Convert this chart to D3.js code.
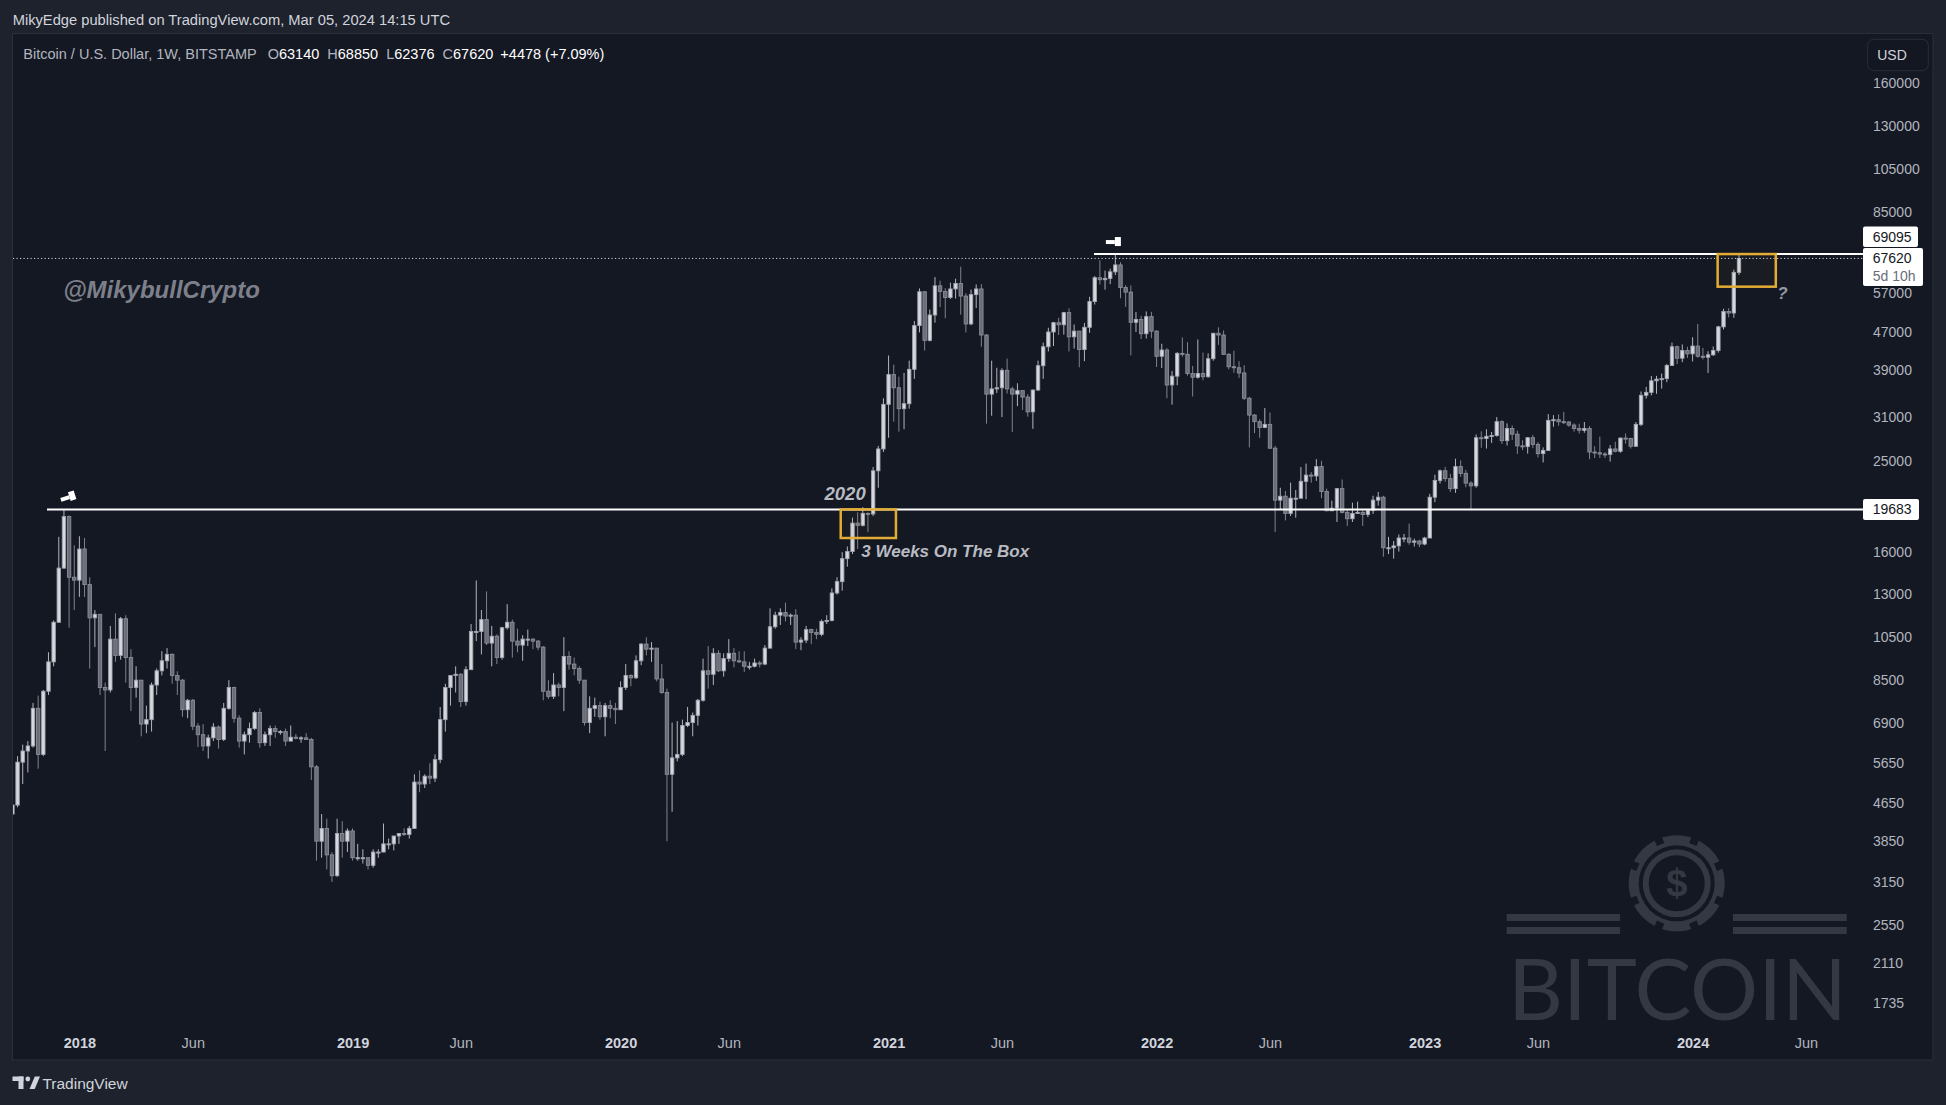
<!DOCTYPE html>
<html>
<head>
<meta charset="utf-8">
<script src="https://cdn.jsdelivr.net/npm/d3@7"></script>
<style>
    html, body { margin: 0; padding: 0; background: #1e222d; overflow: hidden; }
    svg { display: block; }
    text { font-family: "Liberation Sans", Arial, sans-serif; }
</style>
</head>
<body>
<div id="chart"></div>
<script>
// weekly BTCUSD (Bitstamp) bars, each row [high, low, close]; open = previous close
var firstWeek = "2017-10-02";
var firstOpen = 4400;

var weeks2017 = [
    [4650, 4100, 4600], [5850, 4550, 5680], [6190, 5100, 6000], [6300, 5400, 6150],
    [7600, 6100, 7400], [7880, 5500, 5900], [8100, 5850, 8050], [9750, 7900, 9300],
    [11400, 9100, 11300], [17200, 11300, 14750], [19666, 14700, 19000], [19100, 11000, 14100],
    [16500, 12000, 13900]
];
var weeks2018 = [
    [17250, 12800, 16200], [17100, 12800, 13600], [14100, 9000, 11550], [12000, 10000, 11750],
    [11700, 7900, 8200], [8400, 6000, 8100], [11100, 8000, 10400], [11800, 9300, 9600],
    [11600, 9400, 11500], [11700, 8400, 9500], [9900, 7300, 8200], [9100, 7800, 8500],
    [8500, 6450, 6850], [7500, 6550, 7000], [8400, 6600, 8300], [9000, 7900, 8900],
    [9800, 8700, 9350], [9950, 9000, 9650], [9700, 8350, 8700], [8880, 7900, 8500],
    [8550, 7100, 7350], [7750, 7050, 7700], [7750, 6650, 6780], [6880, 6120, 6500],
    [6850, 6000, 6150], [6500, 5780, 6400], [6880, 6300, 6750], [6800, 6070, 6350],
    [7600, 6300, 7400], [8500, 7350, 8200], [8230, 6900, 7050], [7150, 6100, 6300],
    [6600, 5900, 6500], [6900, 6250, 6700], [7300, 6650, 7250], [7400, 6100, 6250],
    [6600, 6150, 6500], [6800, 6150, 6700], [6800, 6400, 6600], [6650, 6500, 6600],
    [6700, 6150, 6300], [6800, 6300, 6420], [6520, 6350, 6400], [6450, 6250, 6400],
    [6550, 6350, 6350], [6400, 5200, 5550], [5600, 3500, 3850], [4400, 3550, 4100],
    [4300, 3350, 3600], [3650, 3150, 3250], [4300, 3230, 4000], [4250, 3550, 3850]
];
var weeks2019 = [
    [4100, 3650, 4050], [4100, 3500, 3550], [3800, 3500, 3550], [3700, 3450, 3550],
    [3550, 3350, 3420], [3700, 3380, 3650], [3700, 3550, 3650], [4200, 3650, 3800],
    [3900, 3700, 3800], [3950, 3680, 3950], [4000, 3800, 4000], [4100, 3950, 3980],
    [4150, 3900, 4100], [5350, 4100, 5150], [5450, 4900, 5100], [5350, 5000, 5300],
    [5650, 5100, 5250], [5900, 5150, 5750], [7450, 5650, 7000], [8350, 6600, 8200],
    [8700, 7500, 8700], [9100, 8000, 8750], [8800, 7450, 7650], [9100, 7500, 8950],
    [11200, 8950, 10800], [13880, 10300, 10800], [12000, 9650, 11450], [13150, 10100, 10200],
    [11100, 9100, 10550], [10650, 9200, 9500], [11050, 9400, 11000], [12350, 10900, 11300],
    [11450, 9500, 10300], [10950, 9750, 10100], [10600, 9350, 10400], [10900, 10050, 10400],
    [10450, 9900, 10300], [10350, 9850, 10000], [10050, 7700, 8050], [8500, 7750, 7850],
    [8800, 7750, 8300], [8400, 7850, 8200], [10500, 7300, 9550], [9800, 8950, 9200],
    [9500, 8700, 9000], [9100, 8350, 8500], [8500, 6800, 6900], [7850, 6550, 7400],
    [7800, 7100, 7500], [7650, 7000, 7100], [7600, 6450, 7500], [7700, 7050, 7400]
];
var weeks2020 = [
    [7600, 6850, 7350], [8450, 7350, 8200], [9200, 8100, 8700], [8750, 8250, 8600],
    [9600, 8550, 9350], [10200, 9150, 10150], [10500, 9600, 9900], [10250, 9300, 9950],
    [9950, 8450, 8550], [9200, 7950, 8000], [8150, 3850, 5350], [6900, 4450, 5800],
    [6950, 5700, 5900], [7000, 5850, 6800], [7450, 6750, 6900], [7250, 6450, 7150],
    [7750, 6800, 7700], [9450, 7650, 8900], [10050, 8150, 8750], [9950, 8300, 9700],
    [9850, 8850, 8900], [9700, 8650, 9450], [10400, 9300, 9700], [9950, 9050, 9350],
    [9800, 9250, 9300], [9800, 8850, 9100], [9300, 8950, 9100], [9450, 9050, 9250],
    [9350, 9050, 9200], [10100, 9150, 9950], [12100, 9950, 11050], [11900, 10950, 11700],
    [12100, 11150, 11850], [12450, 11350, 11650], [11800, 11150, 11700], [12050, 9900, 10250],
    [10500, 9850, 10350], [11100, 10200, 10900], [10950, 10150, 10750], [10950, 10400, 10650],
    [11450, 10550, 11350], [11700, 11200, 11400], [13350, 11350, 13050], [14100, 12950, 13800],
    [15950, 13200, 15450], [16400, 14850, 16000], [18900, 15800, 18400], [19400, 16200, 18200],
    [19900, 18100, 19300], [19400, 17600, 19250], [24250, 19050, 23800], [26900, 21900, 26500],
    [34000, 26100, 33000]
];
var weeks2021 = [
    [41950, 28000, 38200], [40100, 30300, 35800], [37800, 28850, 32300], [38500, 29200, 33100],
    [40900, 32300, 39200], [49700, 37400, 48600], [58350, 47000, 57400], [57500, 43000, 45200],
    [52600, 44950, 51200], [61700, 49300, 59100], [60600, 53250, 57500], [58400, 50400, 55800],
    [60000, 55400, 58200], [61200, 55500, 59800], [64900, 51300, 56200], [57000, 47000, 49000],
    [58000, 48700, 56600], [59500, 53000, 58200], [59600, 43800, 46400], [46600, 30000, 34700],
    [40900, 31200, 35600], [39500, 34900, 35800], [39400, 31000, 39000], [41300, 34800, 35600],
    [36000, 28800, 34700], [36600, 32700, 35300], [35300, 32100, 34200], [34700, 31050, 31800],
    [35500, 29250, 35400], [40900, 35250, 39900], [44700, 37400, 43800], [48100, 42800, 47100],
    [49500, 43950, 49300], [50500, 46400, 48800], [52000, 46500, 51800], [52900, 42800, 46000],
    [48850, 43400, 47300], [47300, 39600, 43200], [49250, 40800, 48200], [56000, 46900, 54700],
    [62000, 53900, 61500], [67000, 59500, 60900], [63700, 58000, 61300], [64300, 59600, 63300],
    [69000, 62300, 65500], [66400, 55600, 58600], [59300, 53300, 57300], [59200, 42000, 49400],
    [51950, 47100, 50100], [51000, 45500, 46700], [52100, 45600, 50800], [52000, 45700, 47300]
];
var weeks2022 = [
    [47500, 39650, 41800], [44450, 39450, 43100], [43500, 34000, 36300], [38900, 32950, 37900],
    [42650, 36250, 42400], [45850, 41700, 42200], [44800, 38000, 38400], [39850, 34300, 37700],
    [45400, 37450, 38400], [42550, 37150, 37800], [42400, 37600, 41300], [46900, 40900, 46800],
    [48200, 44200, 46400], [47450, 42100, 42200], [42450, 39200, 39700], [42950, 38550, 39500],
    [40800, 37600, 38500], [40000, 33700, 34000], [34250, 26700, 31300], [31450, 28650, 30300],
    [30650, 28000, 29450], [32400, 29350, 29900], [31700, 26500, 26600], [26900, 17600, 20600],
    [21900, 19650, 21000], [21550, 18650, 19300], [22450, 19050, 20800], [21650, 18900, 20800],
    [24250, 20750, 22600], [24650, 20700, 23300], [23650, 22450, 23200], [25200, 22650, 24300],
    [25000, 20800, 21500], [21800, 19500, 19550], [20550, 19550, 19800], [21850, 18500, 21800],
    [22800, 19300, 19400], [19700, 18150, 18800], [20350, 18500, 19300], [20450, 19250, 19400],
    [19650, 18150, 19200], [19700, 18950, 19600], [21050, 19250, 20600], [21450, 20050, 20900],
    [21050, 15600, 16300], [17200, 15800, 16300], [16850, 15450, 16450], [17400, 16000, 17100],
    [17450, 16750, 17100], [18350, 16550, 16750], [17050, 16400, 16850], [16950, 16350, 16600]
];
var weeks2023 = [
    [17200, 16500, 17100], [21250, 17150, 20900], [23350, 20400, 22700], [23950, 22350, 23800],
    [24250, 22550, 22900], [23450, 21450, 21800], [25250, 21350, 24300], [25050, 23100, 23500],
    [23900, 21950, 22400], [22600, 19600, 22100], [28450, 21900, 28000], [28900, 26650, 27900],
    [29200, 26550, 28200], [28800, 27300, 28300], [31000, 28150, 30300], [30500, 27150, 27600],
    [30050, 26950, 29300], [29750, 27700, 28500], [29000, 25850, 26900], [27650, 26350, 26800],
    [28100, 25900, 28000], [28400, 26600, 27100], [27400, 25400, 25900], [26700, 24800, 26300],
    [31450, 26250, 30500], [31300, 29550, 30600], [31400, 29700, 30300], [31800, 29950, 30250],
    [30400, 29550, 29800], [30050, 28850, 29300], [30000, 28600, 29050], [30250, 28700, 29300],
    [29650, 25200, 26100], [26850, 25350, 26000], [28150, 25350, 25850], [26100, 25350, 25800],
    [27000, 24900, 26500], [27450, 26050, 26200], [28050, 26000, 27950], [28600, 27200, 27900],
    [28000, 26550, 26850], [30250, 26800, 29900], [35150, 29650, 34500], [35950, 33950, 35000],
    [37950, 34500, 37050], [37950, 34750, 37350], [38400, 35650, 37450], [40250, 36800, 39950],
    [44700, 39950, 43800], [44050, 40200, 41400], [44300, 40600, 43000], [43800, 41450, 42300]
];
var weeks2024 = [
    [45900, 40750, 43950], [49000, 41500, 41800], [43550, 41150, 41600], [42850, 38500, 42100],
    [43850, 41850, 43000], [48550, 42550, 48300], [52800, 47700, 52100], [52950, 50600, 51700],
    [64000, 50500, 63140], [68850, 62376, 67620]
];
var changeText = "+4478 (+7.09%)";

var priceTicks = [160000, 130000, 105000, 85000, 57000, 47000, 39000, 31000, 25000, 16000,
    13000, 10500, 8500, 6900, 5650, 4650, 3850, 3150, 2550, 2110, 1735];
var timeTicks = ["2018-01-01", "2018-06-04", "2019-01-07", "2019-06-03", "2020-01-06", "2020-06-01",
    "2021-01-04", "2021-06-07", "2022-01-03", "2022-06-06", "2023-01-02", "2023-06-05",
    "2024-01-01", "2024-06-03"];
var timeLabels = ["2018", "Jun", "2019", "Jun", "2020", "Jun", "2021", "Jun", "2022", "Jun",
    "2023", "Jun", "2024", "Jun"];

// drawings on the chart
var lineStarts = ["2017-11-18", "2021-10-10"];
var linePrices = [19683, 69095];
var boxStarts = ["2020-10-31", "2024-02-04"];
var boxEnds = ["2021-01-14", "2024-04-23"];
var boxLows = [17100, 58850];
var boxHighs = [19683, 69095];
var lastPrice = 67620;
var countdown = "5d 10h";

var W = 1946, H = 1105;
var plot = {left: 13, right: 1863, top: 34, bottom: 1025};
var bg = "#141823", wm = "#343843";

var parseDay = d3.utcParse("%Y-%m-%d");

var rows = [].concat(weeks2017, weeks2018, weeks2019, weeks2020, weeks2021, weeks2022, weeks2023, weeks2024);
var dates = d3.utcMonday.range(parseDay(firstWeek), d3.utcDay.offset(parseDay("2024-03-04"), 1));
var bars = rows.map(function (r, i) {
    return {
        date: dates[i],
        open: i === 0 ? firstOpen : rows[i - 1][2],
        high: r[0],
        low: r[1],
        close: r[2]
    };
});

var x = d3.scaleUtc()
    .domain([parseDay("2018-01-01"), parseDay("2024-01-01")])
    .range([79.4, 1692.6]);
var y = d3.scaleLog()
    .domain([1735, 160000])
    .range([1003.3, 83.3]);

var svg = d3.select("#chart").append("svg")
    .attr("width", W)
    .attr("height", H);

svg.append("rect").attr("width", W).attr("height", H).attr("fill", "#1e222d");

// header
svg.append("text")
    .attr("x", 12.7).attr("y", 25)
    .attr("fill", "#d1d4dc")
    .style("font-size", "14.7px")
    .text("MikyEdge published on TradingView.com, Mar 05, 2024 14:15 UTC");

// panel
svg.append("rect")
    .attr("x", 12.5).attr("y", 33.5)
    .attr("width", 1920.5).attr("height", 1026.5)
    .attr("fill", bg)
    .attr("stroke", "#2a2e39");

svg.append("defs").append("clipPath").attr("id", "plotclip")
    .append("rect")
    .attr("x", plot.left).attr("y", plot.top)
    .attr("width", plot.right - plot.left).attr("height", plot.bottom - plot.top);

// watermark logo
var logo = svg.append("g").attr("transform", "translate(1676.7,883.3)");
logo.append("circle").attr("r", 48).attr("fill", wm);
d3.range(8).forEach(function (k) {
    logo.append("rect")
        .attr("x", -4).attr("y", -49)
        .attr("width", 8).attr("height", 7)
        .attr("fill", bg)
        .attr("transform", "rotate(" + (22.5 + k * 45) + ")");
});
logo.append("circle").attr("r", 38).attr("fill", bg);
logo.append("circle").attr("r", 34).attr("fill", wm);
logo.append("circle").attr("r", 28).attr("fill", bg);
logo.append("text")
    .attr("text-anchor", "middle").attr("y", 13)
    .attr("fill", wm)
    .style("font-size", "38px").style("font-weight", "bold")
    .text("$");
[[1506.7, 1620], [1733, 1846.7]].forEach(function (s) {
    [914, 927].forEach(function (yy) {
        svg.append("rect")
            .attr("x", s[0]).attr("y", yy)
            .attr("width", s[1] - s[0]).attr("height", 7)
            .attr("fill", wm);
    });
});
var wmText = svg.append("text")
    .attr("x", 1508).attr("y", 1020)
    .attr("fill", wm)
    .style("font-family", "Lato, 'Open Sans', sans-serif")
    .style("font-size", "93px")
    .text("BITCOIN");
var wmLen = wmText.node().getComputedTextLength();
if (wmLen > 339) {
    wmText.style("font-size", (93 * 339 / wmLen) + "px");
}

// legend
var legend = svg.append("text")
    .attr("x", 23.3).attr("y", 58.5)
    .style("font-size", "14.5px");
legend.append("tspan").attr("fill", "#b2b5be").text("Bitcoin / U.S. Dollar, 1W, BITSTAMP");
var last = bars[bars.length - 1];
[["O", last.open], ["H", last.high], ["L", last.low], ["C", last.close]].forEach(function (p, i) {
    legend.append("tspan").attr("dx", i === 0 ? 11 : 8).attr("fill", "#b2b5be").text(p[0]);
    legend.append("tspan").attr("fill", "#ffffff").text(p[1]);
});
legend.append("tspan").attr("dx", 7).attr("fill", "#ffffff").text(changeText);

var g = svg.append("g").attr("clip-path", "url(#plotclip)");

// candles
var candle = g.selectAll(".candle")
    .data(bars)
    .enter().append("g")
    .attr("class", "candle");

candle.append("line")
    .attr("x1", function (d) { return x(d.date); })
    .attr("x2", function (d) { return x(d.date); })
    .attr("y1", function (d) { return y(d.high); })
    .attr("y2", function (d) { return y(d.low); })
    .attr("stroke", function (d) { return d.close >= d.open ? "#b2b5be" : "#80838d"; })
    .attr("stroke-width", 1);

candle.append("rect")
    .attr("x", function (d) { return x(d.date) - 1.7; })
    .attr("width", 3.4)
    .attr("y", function (d) { return y(Math.max(d.open, d.close)); })
    .attr("height", function (d) {
        return Math.max(1, Math.abs(y(d.open) - y(d.close)));
    })
    .attr("fill", function (d) { return d.close >= d.open ? "#d6d8de" : "#6a6d78"; })
    .attr("stroke", function (d) { return d.close >= d.open ? "#a3a6af" : "#8b8e98"; })
    .attr("stroke-width", 0.9);

// last price dotted line
g.append("line")
    .attr("x1", plot.left).attr("x2", plot.right)
    .attr("y1", y(lastPrice)).attr("y2", y(lastPrice))
    .attr("stroke", "#d1d4dc")
    .attr("stroke-width", 1)
    .attr("stroke-dasharray", "1.2,2.3");

// horizontal levels
linePrices.forEach(function (p, i) {
    g.append("line")
        .attr("x1", x(parseDay(lineStarts[i]))).attr("x2", plot.right)
        .attr("y1", y(p)).attr("y2", y(p))
        .attr("stroke", "#ffffff")
        .attr("stroke-width", 2);
    // hammer marker above the level start
    var mx = x(d3.utcDay.offset(parseDay(lineStarts[i]), i === 0 ? 29 : 27));
    var m = g.append("g")
        .attr("transform", "translate(" + mx + "," + (y(p) - 12.5) + ") rotate(" + (i === 0 ? -18 : 0) + ")");
    m.append("rect").attr("x", -8).attr("y", -1.5).attr("width", 9).attr("height", 4).attr("fill", "#ffffff");
    m.append("rect").attr("x", 1).attr("y", -4.5).attr("width", 6).attr("height", 9).attr("fill", "#ffffff");
});

// boxes
boxStarts.forEach(function (s, i) {
    var x0 = x(parseDay(s)), x1 = x(parseDay(boxEnds[i]));
    g.append("rect")
        .attr("x", x0).attr("y", y(boxHighs[i]))
        .attr("width", x1 - x0).attr("height", y(boxLows[i]) - y(boxHighs[i]))
        .attr("fill", "rgba(226,172,53,0.03)")
        .attr("stroke", "#e2ac35")
        .attr("stroke-width", 2.5);
});

// annotations
function note(day, price, str, size, color) {
    g.append("text")
        .attr("x", x(parseDay(day)))
        .attr("y", y(price))
        .attr("dominant-baseline", "central")
        .attr("fill", color)
        .style("font-size", size)
        .style("font-weight", "bold")
        .style("font-style", "italic")
        .text(str);
}
note("2017-12-10", 57900, "@MikybullCrypto", "24px", "#7d808a");
note("2020-10-09", 21330, "2020", "18.5px", "#b8bbc2");
note("2020-11-28", 15990, "3 Weeks On The Box", "17px", "#b8bbc2");
note("2024-04-25", 57040, "?", "17px", "#9598a1");

// price axis
var yAxis = svg.append("g")
    .attr("transform", "translate(" + plot.right + ",0)")
    .call(d3.axisRight(y).tickValues(priceTicks).tickFormat(d3.format("d")).tickSize(0).tickPadding(10));
yAxis.select(".domain").remove();
yAxis.selectAll("text")
    .attr("fill", "#b2b5be")
    .style("font-size", "14px")
    .style("font-family", "'Liberation Sans', Arial, sans-serif");

// time axis
var xAxis = svg.append("g")
    .attr("transform", "translate(0," + plot.bottom + ")")
    .call(d3.axisBottom(x)
        .tickValues(timeTicks.map(parseDay))
        .tickFormat(function (d, i) { return timeLabels[i]; })
        .tickSize(0).tickPadding(13));
xAxis.select(".domain").remove();
xAxis.selectAll("text")
    .attr("fill", function (d, i) { return timeLabels[i] === "Jun" ? "#b2b5be" : "#d1d4dc"; })
    .style("font-weight", function (d, i) { return timeLabels[i] === "Jun" ? "normal" : "bold"; })
    .style("font-size", "14.5px")
    .style("font-family", "'Liberation Sans', Arial, sans-serif");

// price labels on the axis
function priceLabel(top, h, w, lines) {
    svg.append("rect")
        .attr("x", plot.right).attr("y", top)
        .attr("width", w).attr("height", h)
        .attr("rx", 2)
        .attr("fill", "#ffffff");
    lines.forEach(function (l, i) {
        svg.append("text")
            .attr("x", plot.right + 9.7).attr("y", top + 10.5 + i * 18)
            .attr("dominant-baseline", "central")
            .attr("fill", l[1])
            .style("font-size", "14px")
            .text(l[0]);
    });
}
var lastTop = y(lastPrice) - 10.5;
priceLabel(lastTop, 38, 60, [[String(lastPrice), "#131722"], [countdown, "#6a6d78"]]);
priceLabel(lastTop - 21.5, 20.5, 55, [[String(linePrices[1]), "#131722"]]);
priceLabel(y(linePrices[0]) - 10.5, 21, 56, [[String(linePrices[0]), "#131722"]]);

// currency button
svg.append("rect")
    .attr("x", 1867.7).attr("y", 39.3)
    .attr("width", 60.6).attr("height", 31.4)
    .attr("rx", 6)
    .attr("fill", "#131722")
    .attr("stroke", "#2a2e39");
svg.append("text")
    .attr("x", 1892).attr("y", 55)
    .attr("text-anchor", "middle").attr("dominant-baseline", "central")
    .attr("fill", "#d1d4dc")
    .style("font-size", "14px")
    .text("USD");

// TradingView footer
var tv = svg.append("g").attr("fill", "#d1d4dc");
tv.append("rect").attr("x", 12.5).attr("y", 1076.5).attr("width", 11).attr("height", 4.5);
tv.append("rect").attr("x", 18.5).attr("y", 1076.5).attr("width", 5).attr("height", 12.5);
tv.append("circle").attr("cx", 27.8).attr("cy", 1079).attr("r", 2.4);
tv.append("path").attr("d", "M29.5,1089 L34.8,1076.5 L40,1076.5 L34.7,1089 Z");
svg.append("text")
    .attr("x", 42.4).attr("y", 1083)
    .attr("dominant-baseline", "central")
    .attr("fill", "#d1d4dc")
    .style("font-size", "15.5px")
    .text("TradingView");
</script>
</body>
</html>
